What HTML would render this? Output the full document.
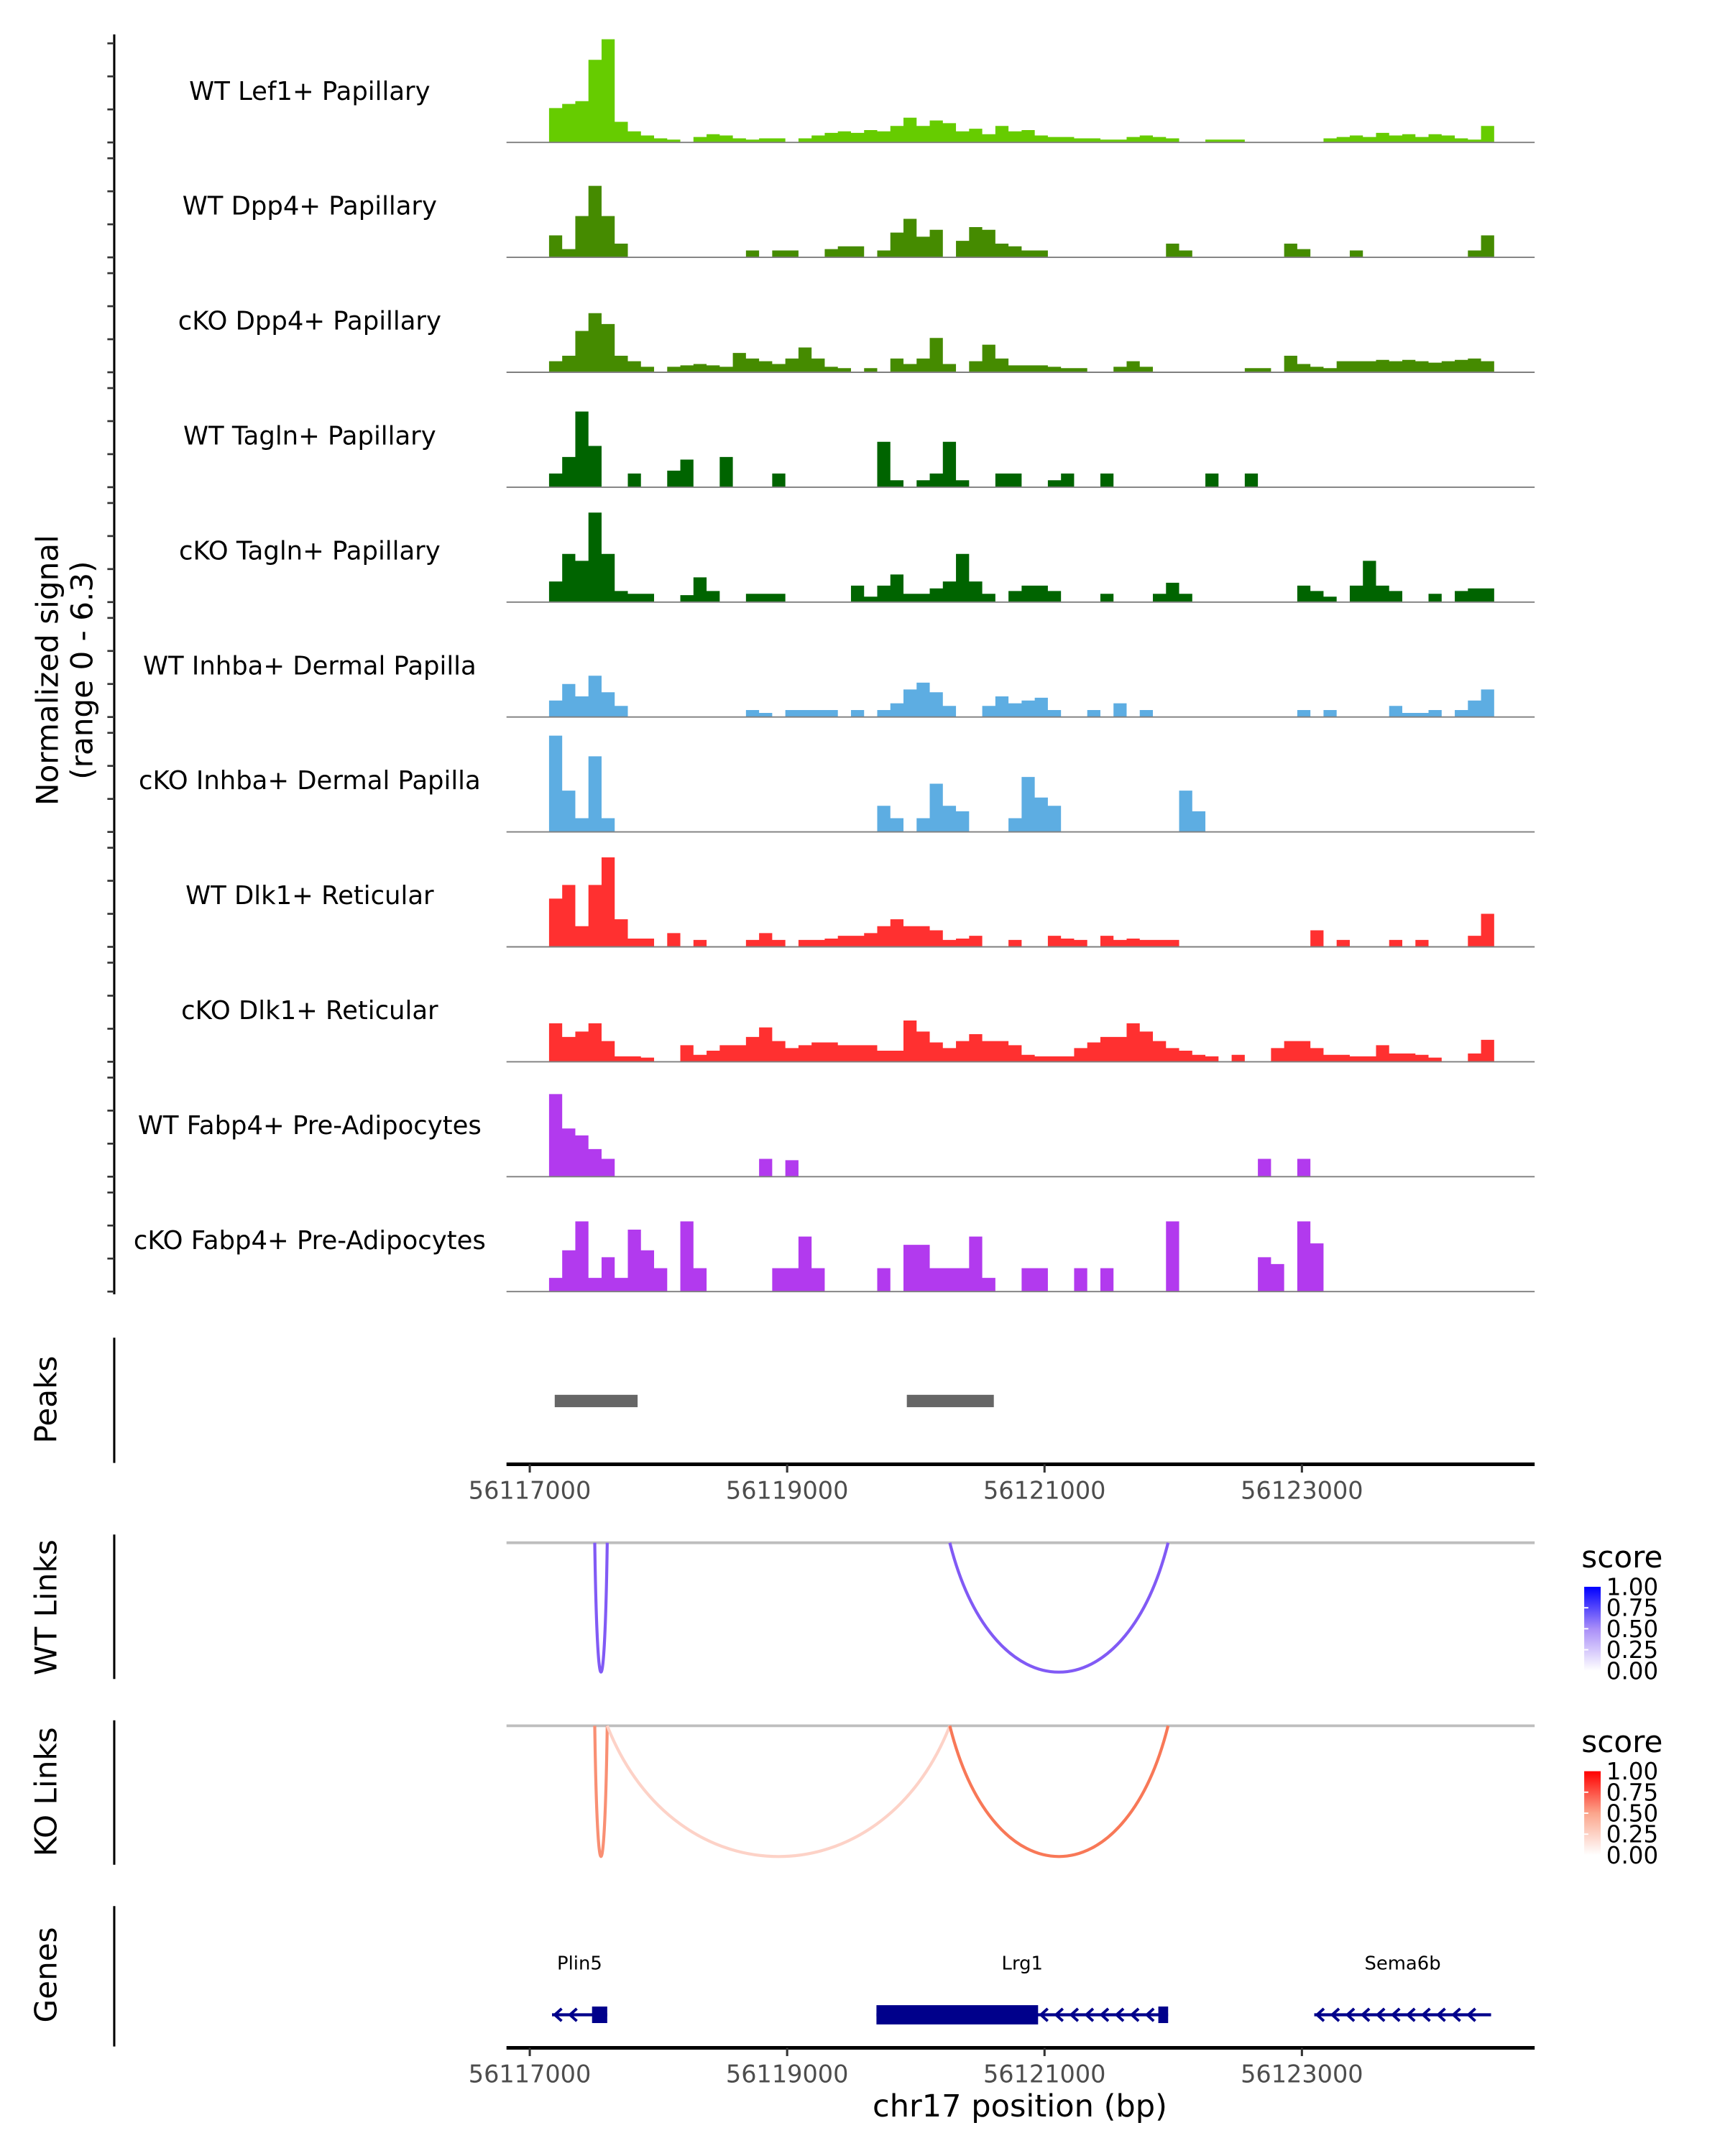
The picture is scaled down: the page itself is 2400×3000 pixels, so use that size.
<!DOCTYPE html>
<html><head><meta charset="utf-8"><style>
html,body{margin:0;padding:0;background:#fff;}
svg{display:block;}
text{font-family:"DejaVu Sans","Liberation Sans",sans-serif;}
</style></head><body>
<svg id="chart" width="2400" height="3000" viewBox="0 0 1253.3 1566.6" preserveAspectRatio="none" xmlns="http://www.w3.org/2000/svg">
<rect width="1253.3" height="1566.6" fill="#fff"/>
<g id="tracks"></g>
<g id="static">
 <text transform="translate(42,487) rotate(-90)" text-anchor="middle" font-size="22">Normalized signal</text>
 <text transform="translate(67,487) rotate(-90)" text-anchor="middle" font-size="22">(range 0 - 6.3)</text>
 <text transform="translate(41,1017) rotate(-90)" text-anchor="middle" font-size="22">Peaks</text>
 <text transform="translate(41,1168) rotate(-90)" text-anchor="middle" font-size="22">WT Links</text>
 <text transform="translate(41,1302) rotate(-90)" text-anchor="middle" font-size="22">KO Links</text>
 <text transform="translate(41,1435) rotate(-90)" text-anchor="middle" font-size="22">Genes</text>
 <line x1="83" y1="972" x2="83" y2="1063" stroke="#000" stroke-width="1.6"/>
 <line x1="83" y1="1115" x2="83" y2="1220" stroke="#000" stroke-width="1.6"/>
 <line x1="83" y1="1250" x2="83" y2="1355" stroke="#000" stroke-width="1.6"/>
 <line x1="83" y1="1385" x2="83" y2="1487" stroke="#000" stroke-width="1.6"/>
 <text x="741" y="1538" text-anchor="middle" font-size="22.5">chr17 position (bp)</text>
 <defs>
  <linearGradient id="gBlue" x1="0" y1="1" x2="0" y2="0"><stop offset="0" stop-color="#fff"/><stop offset="0.5" stop-color="#a98ef8"/><stop offset="1" stop-color="#0000ff"/></linearGradient>
  <linearGradient id="gRed" x1="0" y1="1" x2="0" y2="0"><stop offset="0" stop-color="#fff"/><stop offset="0.5" stop-color="#fba58c"/><stop offset="1" stop-color="#ff0000"/></linearGradient>
 </defs>
</g>
</svg>
<script>
// ---- data ----
const trackNames = ["WT Lef1+ Papillary","WT Dpp4+ Papillary","cKO Dpp4+ Papillary","WT Tagln+ Papillary","cKO Tagln+ Papillary","WT Inhba+ Dermal Papilla","cKO Inhba+ Dermal Papilla","WT Dlk1+ Reticular","cKO Dlk1+ Reticular","WT Fabp4+ Pre-Adipocytes","cKO Fabp4+ Pre-Adipocytes"];
const trackColors = ["#66cc00","#458b00","#458b00","#006400","#006400","#5dade2","#5dade2","#ff3030","#ff3030","#b23aee","#b23aee"];
const binStart = 56117150;
const binSize = 102;
const wtLef1 = [2.08,2.33,2.5,5,6.25,1.25,.67,.42,.25,.17,0,.33,.5,.42,.25,.17,.25,.25,0,.25,.42,.58,.67,.58,.75,.67,1,1.5,1,1.33,1.17,.67,.83,.5,1,.67,.75,.42,.33,.33,.25,.25,.17,.17,.33,.42,.33,.25,0,0,.17,.17,.17,0,0,0,0,0,0,.25,.33,.42,.33,.58,.42,.5,.33,.5,.42,.25,.17,1];
const wtDpp4 = [1.33,.5,2.5,4.33,2.5,.83,0,0,0,0,0,0,0,0,0,.42,0,.42,.42,0,0,.5,.67,.67,0,.42,1.5,2.33,1.25,1.67,0,1,1.83,1.67,.83,.67,.42,.42,0,0,0,0,0,0,0,0,0,.83,.42,0,0,0,0,0,0,0,.83,.5,0,0,0,.42,0,0,0,0,0,0,0,0,.42,1.33];
const koDpp4 = [.67,1,2.5,3.58,2.92,1,.67,.33,0,.33,.42,.5,.42,.33,1.17,.83,.67,.5,.83,1.5,.83,.33,.25,0,.25,0,.83,.5,.83,2.08,.5,0,.67,1.67,.83,.42,.42,.42,.33,.25,.25,0,0,.33,.67,.33,0,0,0,0,0,0,0,.25,.25,0,1,.5,.33,.25,.67,.67,.67,.75,.67,.75,.67,.58,.67,.75,.83,.67];
const wtTagln = [.83,1.83,4.58,2.5,0,0,.83,0,0,1,1.67,0,0,1.83,0,0,0,.83,0,0,0,0,0,0,0,2.75,.42,0,.42,.83,2.75,.42,0,0,.83,.83,0,0,.42,.83,0,0,.83,0,0,0,0,0,0,0,.83,0,0,.83,0,0,0,0,0,0,0,0,0,0,0,0,0,0,0,0,0,0];
const koTagln = [1.25,2.92,2.5,5.42,2.92,.67,.5,.5,0,0,.42,1.5,.67,0,0,.5,.5,.5,0,0,0,0,0,1,.33,1,1.67,.5,.5,.83,1.25,2.92,1.25,.5,0,.67,1,1,.67,0,0,0,.5,0,0,0,.5,1.17,.5,0,0,0,0,0,0,0,0,1,.67,.33,0,1,2.5,1,.67,0,0,.5,0,.67,.83,.83];
const wtInhba = [1,2,1.25,2.5,1.5,.67,0,0,0,0,0,0,0,0,0,.42,.25,0,.42,.42,.42,.42,0,.42,0,.42,.83,1.67,2.08,1.5,.67,0,0,.67,1.25,.83,1,1.17,.42,0,0,.42,0,.83,0,.42,0,0,0,0,0,0,0,0,0,0,0,.42,0,.42,0,0,0,0,.67,.25,.25,.42,0,.42,1,1.67];
const koInhba = [5.83,2.5,.83,4.58,.83,0,0,0,0,0,0,0,0,0,0,0,0,0,0,0,0,0,0,0,0,1.58,.83,0,.83,2.92,1.58,1.25,0,0,0,.83,3.33,2.08,1.58,0,0,0,0,0,0,0,0,0,2.5,1.25,0,0,0,0,0,0,0,0,0,0,0,0,0,0,0,0,0,0,0,0,0,0];
const wtDlk1 = [2.92,3.75,1.25,3.75,5.42,1.67,.5,.5,0,.83,0,.42,0,0,0,.42,.83,.42,0,.42,.42,.5,.67,.67,.83,1.25,1.67,1.25,1.25,1,.42,.5,.67,0,0,.42,0,0,.67,.5,.42,0,.67,.42,.5,.42,.42,.42,0,0,0,0,0,0,0,0,0,0,1,0,.42,0,0,0,.42,0,.42,0,0,0,.67,2];
const koDlk1 = [2.33,1.5,1.83,2.33,1.25,.33,.33,.25,0,0,1,.42,.67,1,1,1.5,2.08,1.25,.83,1,1.17,1.17,1,1,1,.67,.67,2.5,1.83,1.17,.83,1.25,1.67,1.25,1.25,1,.42,.33,.33,.33,.83,1.17,1.5,1.5,2.33,1.83,1.25,.83,.67,.42,.33,0,.42,0,0,.83,1.25,1.25,.83,.42,.42,.33,.33,1,.5,.5,.42,.25,0,0,.5,1.33];
const wtFabp4 = [5,2.92,2.5,1.67,1.08,0,0,0,0,0,0,0,0,0,0,0,1.08,0,1,0,0,0,0,0,0,0,0,0,0,0,0,0,0,0,0,0,0,0,0,0,0,0,0,0,0,0,0,0,0,0,0,0,0,0,1.08,0,0,1.08,0,0,0,0,0,0,0,0,0,0,0,0,0,0];
const koFabp4 = [.83,2.5,4.25,.83,2.08,.83,3.75,2.5,1.42,0,4.25,1.42,0,0,0,0,0,1.42,1.42,3.33,1.42,0,0,0,0,1.42,0,2.83,2.83,1.42,1.42,1.42,3.33,.83,0,0,1.42,1.42,0,0,1.42,0,1.42,0,0,0,0,4.25,0,0,0,0,0,0,2.08,1.67,0,4.25,2.92,0,0,0,0,0,0,0,0,0,0,0,0,0];
const trackValues = [wtLef1,wtDpp4,koDpp4,wtTagln,koTagln,wtInhba,koInhba,wtDlk1,koDlk1,wtFabp4,koFabp4];
const yTicks = [0,2,4,6];
const peakStarts = [56117194, 56119930];
const peakEnds = [56117838, 56120606];
const wtLinkStarts = [56117505, 56120264];
const wtLinkEnds = [56117602, 56121960];
const wtLinkScores = [0.55, 0.55];
const koLinkStarts = [56117505, 56117602, 56120264];
const koLinkEnds = [56117602, 56120264, 56121960];
const koLinkScores = [0.5, 0.2, 0.6];
const xTicks = [56117000, 56119000, 56121000, 56123000];
const xTickLabels = ["56117000","56119000","56121000","56123000"];
const legendTicks = [0, 0.25, 0.5, 0.75, 1];
const legendLabels = ["0.00","0.25","0.50","0.75","1.00"];
const geneNames = ["Plin5","Lrg1","Sema6b"];
const geneStarts = [56117173, 56119694, 56123096];
const geneEnds = [56117602, 56121960, 56124470];
const exonStarts = [56117484, 56119694, 56121885];
const exonEnds = [56117602, 56120950, 56121960];
const exonTall = [12, 14, 12];

// ---- scales ----
const NS = "http://www.w3.org/2000/svg";
const X0 = 384.9, PXBP = 0.0935;
function xs(bp){ return X0 + (bp - 56117000) * PXBP; }
const PLOT_L = 368, PLOT_R = 1115;
const TRACK_TOP = 20, TRACK_H = 83.5, UNIT = 12;
function base(i){ return TRACK_TOP + (i+1)*TRACK_H; }
function ys(i, v){ return base(i) - v*UNIT; }
function mk(tag, attrs, parent){ const e=document.createElementNS(NS,tag); for(const k in attrs) e.setAttribute(k,attrs[k]); parent.appendChild(e); return e; }
const g = document.getElementById('tracks');

let ax = mk('line',{x1:83,y1:25,x2:83,y2:base(10)+2,stroke:'#000','stroke-width':1.6},g);



trackNames.forEach((name,i)=>{
  const vals = trackValues[i];
  let d = 'M'+xs(binStart).toFixed(2)+','+base(i);
  vals.forEach((v,j)=>{
    const x1 = xs(binStart + j*binSize), x2 = xs(binStart + (j+1)*binSize);
    d += 'L'+x1.toFixed(2)+','+ys(i,v).toFixed(2)+'L'+x2.toFixed(2)+','+ys(i,v).toFixed(2);
  });
  d += 'L'+xs(binStart+vals.length*binSize).toFixed(2)+','+base(i)+'Z';
  const p = mk('path',{d:d,fill:trackColors[i]},g);
  
  
  const bl = mk('line',{x1:PLOT_L,x2:PLOT_R,y1:base(i),y2:base(i),stroke:'#7f7f7f','stroke-width':1},g);
  
  
  const t = mk('text',{x:225,y:base(i)-31,'text-anchor':'middle','font-size':18.5},g);
  t.textContent = name;
  
  
  yTicks.forEach(v=>{
    const tk = mk('line',{x1:78,x2:83,y1:ys(i,v),y2:ys(i,v),stroke:'#333','stroke-width':1.4},g);
    
    
  });
});

peakStarts.forEach((s,k)=>{
  const r = mk('rect',{x:xs(s),y:1013.5,width:xs(peakEnds[k])-xs(s),height:9,fill:'#666666'},g);
  
  
});

function xAxis(y, name){
  const l = mk('line',{x1:PLOT_L,x2:PLOT_R,y1:y,y2:y,stroke:'#000','stroke-width':2.6},g);
  
  
  xTicks.forEach((v,k)=>{
    const t = mk('line',{x1:xs(v),x2:xs(v),y1:y,y2:y+6,stroke:'#333','stroke-width':1.6},g);
    
    
    const lb = mk('text',{x:xs(v),y:y+25,'text-anchor':'middle','font-size':17.5,fill:'#4d4d4d'},g);
    lb.textContent = xTickLabels[k];
    
    
  });
}
xAxis(1064,'peaks-x-axis');
xAxis(1488,'genes-x-axis');

function cl(v){return Math.max(0,Math.min(255,Math.round(v)));}
function linkColor(s, hue){
  return hue==='blue' ? `rgb(${cl(255-230*s)},${cl(255-300*s)},${cl(255-18*s)})` : `rgb(${cl(255-12*s)},${cl(255-225*s)},${cl(255-280*s)})`;
}
function links(top, bottom, starts, ends, scores, hue, name){
  const gl = mk('line',{x1:PLOT_L,x2:PLOT_R,y1:top,y2:top,stroke:'#bebebe','stroke-width':2},g);
  
  
  starts.forEach((s,k)=>{
    const a = xs(s), b = xs(ends[k]);
    const depth = (bottom-top)/0.75;
    const d = `M${a},${top} C${a+(b-a)*0.2},${top+depth} ${b-(b-a)*0.2},${top+depth} ${b},${top}`;
    const p = mk('path',{d:d,fill:'none',stroke:linkColor(scores[k],hue),'stroke-width':2.2},g);
    
    
  });
}
links(1121,1215,wtLinkStarts,wtLinkEnds,wtLinkScores,'blue','wt-links');
links(1254,1349,koLinkStarts,koLinkEnds,koLinkScores,'red','ko-links');

function legend(y0, grad, name){
  const t = mk('text',{x:1149,y:y0,'font-size':22},g);
  t.textContent = 'score';
  
  
  const top = y0+14, h = 61;
  const r = mk('rect',{x:1151,y:top,width:12,height:h,fill:'url(#'+grad+')'},g);
  
  
  legendTicks.forEach((v,k)=>{
    const yy = top + h - v*h;
    if(v>0 && v<1){
      const tk = mk('line',{x1:1151,x2:1154,y1:yy,y2:yy,stroke:'#fff','stroke-width':1},g);
      
      
    }
    const lb = mk('text',{x:1167,y:yy+6,'font-size':17},g);
    lb.textContent = legendLabels[k];
    
    
  });
}
legend(1139,'gBlue','wt-legend');
legend(1273,'gRed','ko-legend');

const GY = 1464, GC = '#00008b';
geneNames.forEach((nm,k)=>{
  const a = xs(geneStarts[k]), b = xs(geneEnds[k]);
  const l = mk('line',{x1:a,x2:b,y1:GY,y2:GY,stroke:GC,'stroke-width':2.2},g);
  
  
  const ea = xs(exonStarts[k]), eb = xs(exonEnds[k]);
  const ex = mk('rect',{x:ea,y:GY-exonTall[k]/2,width:eb-ea,height:exonTall[k],fill:GC},g);
  
  
  if(nm==='Lrg1'){
    const e2 = mk('rect',{x:xs(56121885),y:GY-6,width:xs(56121960)-xs(56121885),height:12,fill:GC},g);
    
    
  }
  let from = a+2, to = b-2;
  if(nm==='Plin5') to = ea-2;
  if(nm==='Lrg1') from = eb+2, to = xs(56121885)-2;
  for(let x=from; x<=to-4; x+=11){
    const c = mk('path',{d:`M${x+5},${GY-4.5} L${x},${GY} L${x+5},${GY+4.5}`,fill:'none',stroke:GC,'stroke-width':2},g);
    
    
  }
  const lb = mk('text',{x:(a+b)/2,y:1431,'text-anchor':'middle','font-size':13.5},g);
  lb.textContent = nm;
  
  
});
</script>
</body></html>
